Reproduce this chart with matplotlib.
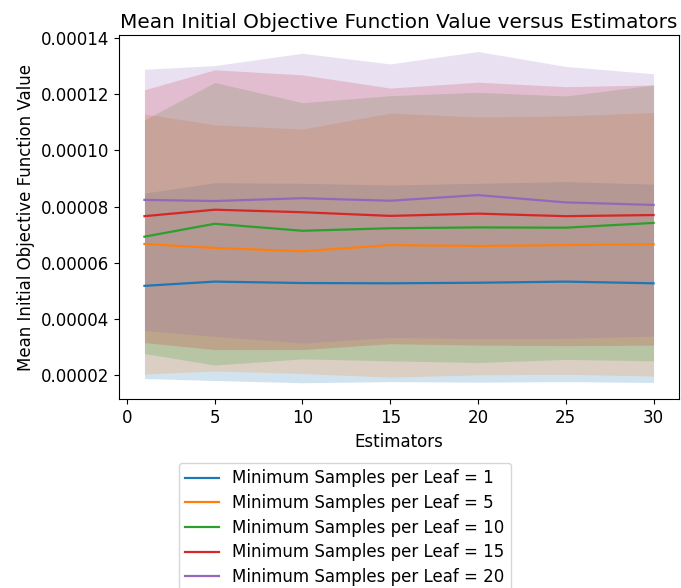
import matplotlib
matplotlib.use("Agg")
import matplotlib.pyplot as plt
import numpy as np

estimators = [1, 5, 10, 15, 20, 25, 30]
min_samples_leaf = [1, 5, 10, 15, 20]

# means (x1e-5)
mean_1 = [5.18, 5.33, 5.28, 5.27, 5.29, 5.33, 5.27]
mean_5 = [6.67, 6.53, 6.41, 6.63, 6.60, 6.63, 6.66]
mean_10 = [6.93, 7.39, 7.14, 7.23, 7.26, 7.25, 7.42]
mean_15 = [7.66, 7.89, 7.80, 7.67, 7.75, 7.66, 7.70]
mean_20 = [8.24, 8.20, 8.30, 8.21, 8.41, 8.15, 8.06]

# standard deviations (x1e-5)
std_1 = [3.30, 3.52, 3.55, 3.50, 3.54, 3.56, 3.53]
std_5 = [4.63, 4.38, 4.35, 4.70, 4.59, 4.60, 4.69]
std_10 = [4.16, 5.03, 4.56, 4.72, 4.81, 4.69, 4.91]
std_15 = [4.50, 4.98, 4.89, 4.55, 4.68, 4.61, 4.63]
std_20 = [4.65, 4.82, 5.16, 4.87, 5.11, 4.84, 4.67]

scale = 1e-5
means = [mean_1, mean_5, mean_10, mean_15, mean_20]
stds = [std_1, std_5, std_10, std_15, std_20]

W, H = 681, 588
fig = plt.figure(figsize=(W / 100, H / 100), dpi=100)
ax = fig.add_axes([119 / W, 1 - 399.3 / H, (679 - 119) / W, (399.3 - 35) / H])

x = np.array(estimators)
for leaf, m, s in zip(min_samples_leaf, means, stds):
    m = np.array(m) * scale
    s = np.array(s) * scale
    line, = ax.plot(x, m, label=f"Minimum Samples per Leaf = {leaf}", linewidth=1.6)
    ax.fill_between(x, m - s, m + s, color=line.get_color(), alpha=0.2, linewidth=0)

ax.set_yticks([0.00002, 0.00004, 0.00006, 0.00008, 0.00010, 0.00012, 0.00014])
ax.set_yticklabels(["0.00002", "0.00004", "0.00006", "0.00008", "0.00010", "0.00012", "0.00014"])
ax.tick_params(labelsize=12)
ax.set_xlabel("Estimators", fontsize=12)
ax.set_ylabel("Mean Initial Objective Function Value", fontsize=12)
ax.set_title("Mean Initial Objective Function Value versus Estimators", fontsize=14.4, pad=5)

fig.legend(loc="upper center", bbox_to_anchor=(344.8 / W, 1 - 454.4 / H), fontsize=12,
           labelspacing=0.4)

fig.savefig("out.png", dpi=100)
